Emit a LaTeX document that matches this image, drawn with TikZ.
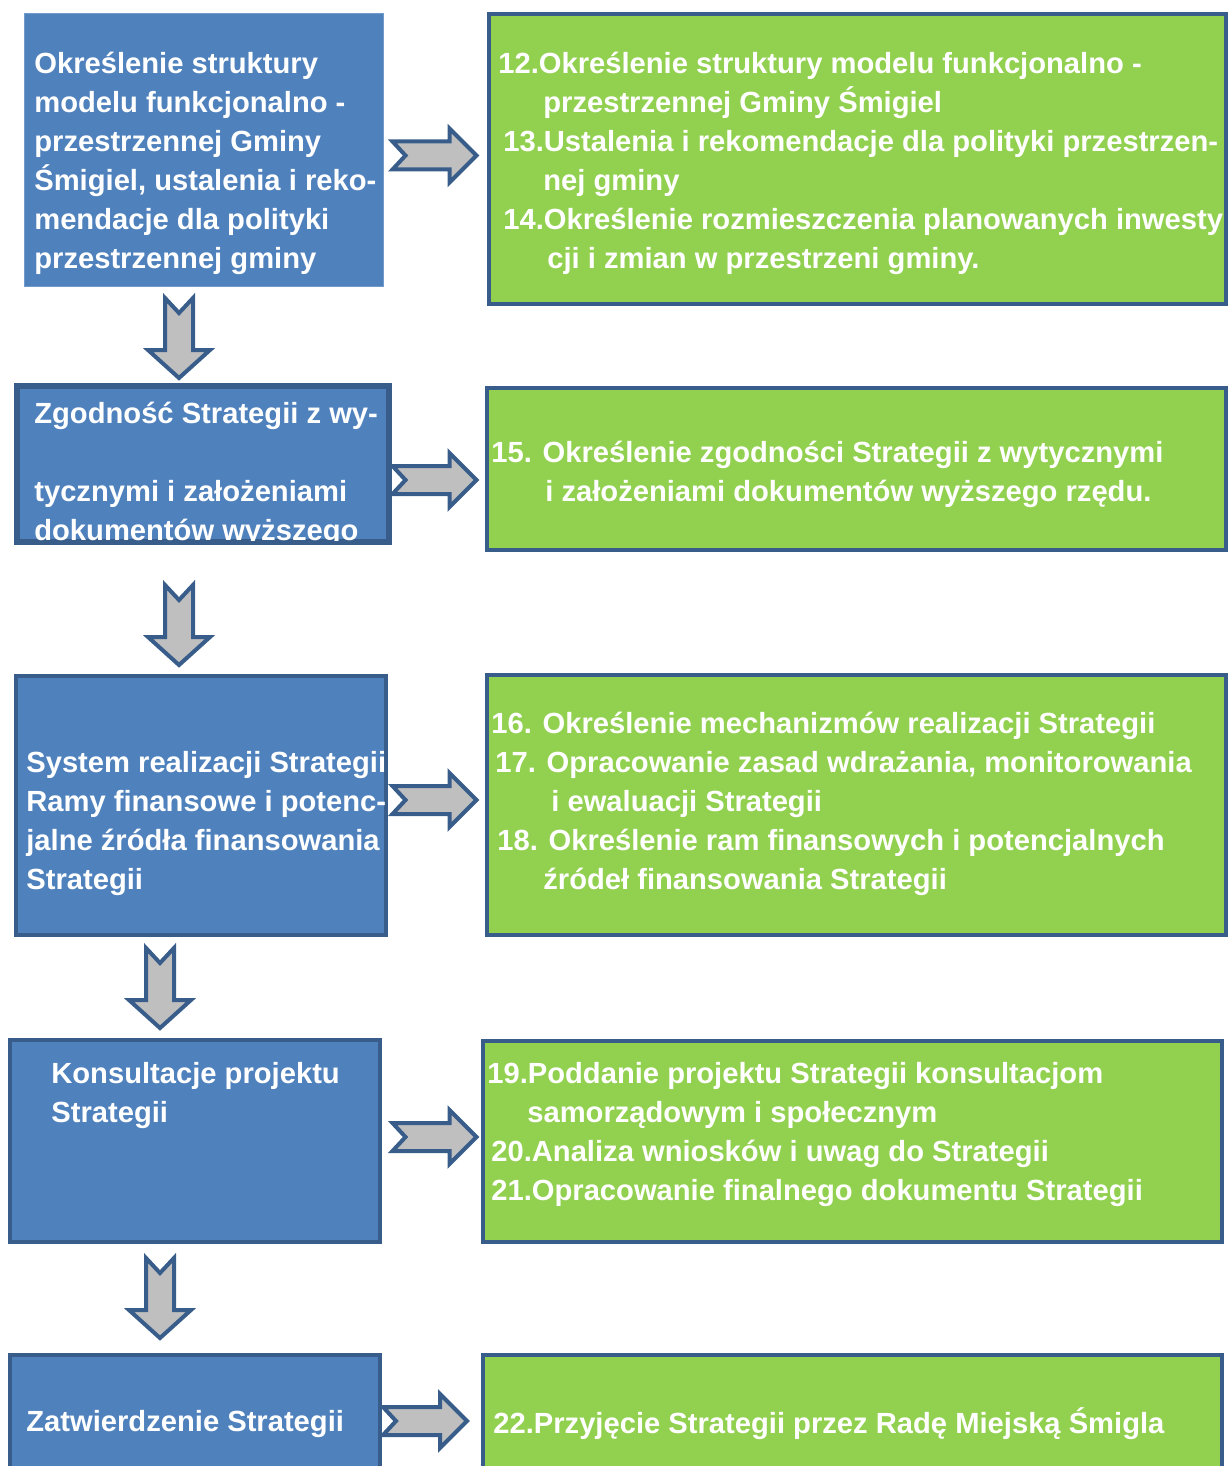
\documentclass[tikz,border=0pt]{standalone}
\usepackage{fontspec}
\setmainfont{Liberation Sans}
\usetikzlibrary{positioning}
\definecolor{boxblue}{HTML}{4F81BD}
\definecolor{edgeblue}{HTML}{385D8A}
\definecolor{boxgreen}{HTML}{92D050}
\definecolor{arrowgrey}{HTML}{BFBFBF}
\tikzset{
  stagebox/.style={rectangle, fill=boxblue, draw=edgeblue, line width=0.08cm, inner sep=0pt},
  taskbox/.style={rectangle, fill=boxgreen, draw=edgeblue, line width=0.08cm, inner sep=0pt},
  boxtext/.style={anchor=west, align=left, inner sep=0pt, text=white, yshift=-0.06cm,
    font=\fontsize{16.6}{22.2}\selectfont\bfseries},
  blockarrow/.style={fill=arrowgrey, draw=edgeblue, line width=0.08cm, line join=miter},
  rarrow/.pic={\draw[blockarrow] (-42,-14) -- (15,-14) -- (15,-27) -- (42,0) -- (15,27)
    -- (15,14) -- (-42,14) -- (-29,0) -- cycle;},
  darrow/.pic={\draw[blockarrow] (-14,-40) -- (0,-25) -- (14,-40) -- (14,12) -- (31,12)
    -- (0,40) -- (-31,12) -- (-14,12) -- cycle;}
}
\begin{document}
\begin{tikzpicture}[x=0.02cm, y=-0.02cm]
\useasboundingbox (0,0) rectangle (1229,1466);
% left column: stages
\node[stagebox, draw=boxblue!80!white, line width=0.02cm, minimum width=7.2cm, minimum height=5.48cm] (l1) at (204,150) {};
\node[stagebox, minimum width=7.4cm, minimum height=3.08cm] (l2) at (203,464) {};
\node[stagebox, minimum width=7.4cm, minimum height=5.18cm] (l3) at (201,805.5) {};
\node[stagebox, minimum width=7.4cm, minimum height=4.04cm] (l4) at (195,1141) {};
\node[stagebox, minimum width=7.4cm, minimum height=2.7cm] (l5) at (195,1422.5) {};
% right column: tasks
\node[taskbox, minimum width=14.74cm, minimum height=5.8cm] (r1) at (857.5,159) {};
\node[taskbox, minimum width=14.78cm, minimum height=3.24cm] (r2) at (856.5,469) {};
\node[taskbox, minimum width=14.78cm, minimum height=5.2cm] (r3) at (856.5,805) {};
\node[taskbox, minimum width=14.78cm, minimum height=4.02cm] (r4) at (852.5,1141.5) {};
\node[taskbox, minimum width=14.78cm, minimum height=2.7cm] (r5) at (852.5,1422.5) {};
% texts
\node[boxtext] (tl1) at (34,160.5) {Określenie struktury\\modelu funkcjonalno -\\przestrzennej Gminy\\Śmigiel, ustalenia i reko-\\mendacje dla polityki\\przestrzennej gminy};
\node[boxtext] (tl2) at (34,471.5) {Zgodność Strategii z wy-\\\mbox{}\\tycznymi i założeniami\\dokumentów wyższego};
\draw[edgeblue, line width=0.08cm] (l2.north west) rectangle (l2.south east);
\node[boxtext] (tl3) at (26,820.5) {System realizacji Strategii\\Ramy finansowe i potenc-\\jalne źródła finansowania\\Strategii};
\node[boxtext] (tl4) at (51,1092.5) {Konsultacje projektu\\Strategii};
\node[boxtext] (tl5) at (26,1421) {Zatwierdzenie Strategii};
\node[boxtext] (tr1) at (498,160.5) {12.Określenie struktury modelu funkcjonalno -\\
  \hspace*{0.9cm}przestrzennej Gminy Śmigiel\\
  \hspace*{0.1cm}13.Ustalenia i rekomendacje dla polityki przestrzen-\\
  \hspace*{0.9cm}nej gminy\\
  \hspace*{0.1cm}14.Określenie rozmieszczenia planowanych inwesty\\
  \hspace*{0.98cm}cji i zmian w przestrzeni gminy.};
\node[boxtext] (tr2) at (491,471.5) {15. Określenie zgodności Strategii z wytycznymi\\
  \hspace*{1.08cm}i założeniami dokumentów wyższego rzędu.};
\node[boxtext] (tr3) at (491,801) {16. Określenie mechanizmów realizacji Strategii\\
  \hspace*{0.08cm}17. Opracowanie zasad wdrażania, monitorowania\\
  \hspace*{1.2cm}i ewaluacji Strategii\\
  \hspace*{0.12cm}18. Określenie ram finansowych i potencjalnych\\
  \hspace*{1.04cm}źródeł finansowania Strategii};
\node[boxtext] (tr4) at (487,1131.5) {19.Poddanie projektu Strategii konsultacjom\\
  \hspace*{0.8cm}samorządowym i społecznym\\
  \hspace*{0.08cm}20.Analiza wniosków i uwag do Strategii\\
  \hspace*{0.08cm}21.Opracowanie finalnego dokumentu Strategii};
\node[boxtext] (tr5) at (493,1421) {22.Przyjęcie Strategii przez Radę Miejską Śmigla};
% block arrows
\foreach \y in {155.5,480,800,1137}
  \pic at (434.5,\y) {rarrow};
\pic at (425,1421) {rarrow};
\foreach \x/\y in {179/338,179/625,160/988,160/1298}
  \pic at (\x,\y) {darrow};
\end{tikzpicture}
\end{document}
